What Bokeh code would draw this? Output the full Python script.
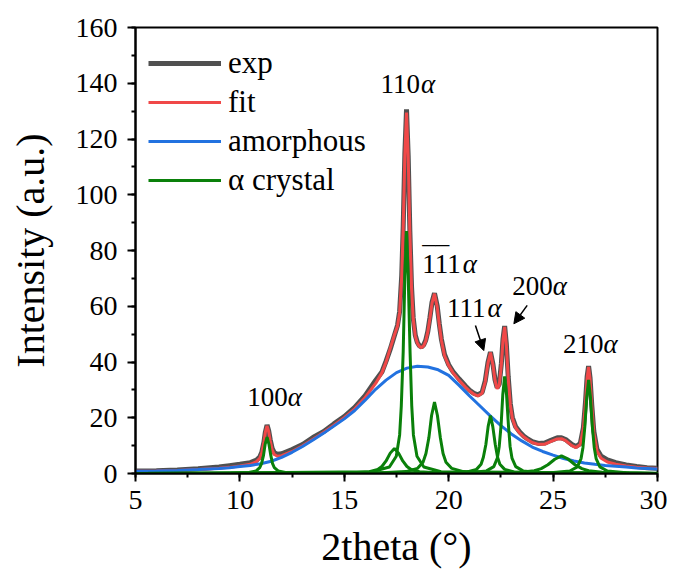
from bokeh.plotting import figure
from bokeh.models import (Legend, LegendItem, Label, Arrow, NormalHead,
                          SingleIntervalTicker, Range1d)
from bokeh.embed import file_html
from bokeh.resources import INLINE

# ---------------- data ----------------
two_theta = [5, 6, 7, 8, 9, 9.5, 10, 10.5, 10.8, 10.95, 11.05, 11.15, 11.22, 11.3, 11.38,
             11.45, 11.55, 11.65, 11.8, 12.0, 12.5, 13, 13.5, 14, 14.5, 15, 15.5, 16, 16.5,
             16.8, 17.0, 17.2, 17.4, 17.55, 17.65, 17.75, 17.82, 17.9, 17.98, 18.06, 18.14,
             18.22, 18.3, 18.4, 18.5, 18.6, 18.7, 18.8, 18.9, 19.0, 19.1, 19.2, 19.32, 19.45,
             19.55, 19.65, 19.8, 20.0, 20.2, 20.5, 20.8, 21.0, 21.2, 21.4, 21.6, 21.75, 21.88,
             22.0, 22.12, 22.22, 22.32, 22.42, 22.52, 22.6, 22.68, 22.76, 22.85, 22.95, 23.05,
             23.2, 23.4, 23.6, 23.8, 24.0, 24.3, 24.6, 24.9, 25.2, 25.4, 25.6, 25.9, 26.1, 26.3,
             26.45, 26.55, 26.63, 26.7, 26.77, 26.85, 26.95, 27.1, 27.3, 27.6, 28.0, 28.5, 29.0,
             29.5, 30.0]
exp_int = [0.9, 1.0, 1.3, 1.7, 2.3, 2.8, 3.3, 3.9, 4.8, 5.9, 7.6, 11.2, 14.9, 17.4, 15.3,
           12.2, 8.9, 7.4, 6.9, 7.1, 8.6, 10.4, 12.9, 15.0, 17.8, 20.4, 23.7, 27.9, 33.4,
           36.4, 40.3, 44.6, 49.5, 53.2, 58.2, 71.0, 88.3, 114.8, 130.6, 114.0, 86.9,
           67.0, 55.9, 49.6, 47.0, 45.8, 45.4, 46.1, 47.8, 51.0, 55.9, 61.4, 64.7, 60.1,
           53.7, 48.2, 42.7, 39.0, 36.6, 33.9, 31.4, 29.9, 28.8, 28.2, 29.1, 33.2, 39.8,
           43.6, 39.2, 33.6, 30.8, 32.0, 39.3, 48.2, 52.9, 46.5, 34.7, 25.1, 20.1,
           16.9, 14.9, 13.4, 12.3, 11.4, 10.8, 10.9, 11.9, 12.8, 12.8, 12.2, 10.4, 9.7, 10.7,
           16.4, 25.5, 34.8, 38.5, 34.3, 24.8, 15.2, 8.7, 6.2, 4.9, 3.9, 3.1, 2.5,
           2.1, 1.9]
fit_int = [0.8, 0.9, 1.1, 1.45, 1.85, 2.2, 2.66, 3.3, 4.3, 5.5, 7.45, 11.3, 14.8, 17.1, 15.0,
           11.85, 8.35, 6.8, 6.2, 6.4, 7.9, 9.95, 12.26, 14.7, 17.3, 20.0, 23.2, 27.3, 32.3,
           36.1, 39.95, 44.9, 49.7, 52.95, 57.8, 70.6, 87.8, 114.1, 129.5, 113.5, 86.4,
           66.6, 55.5, 49.3, 46.7, 45.5, 45.2, 45.8, 47.5, 50.8, 55.6, 61.1, 64.5, 59.7,
           53.4, 47.8, 42.25, 38.7, 36.2, 33.4, 31.0, 29.6, 28.5, 27.8, 28.8, 32.9, 39.5,
           43.4, 38.9, 33.3, 30.4, 31.7, 39.0, 47.9, 52.6, 46.2, 34.3, 24.7, 19.7,
           16.5, 14.5, 13.1, 12.0, 11.1, 10.45, 10.5, 11.5, 12.4, 12.5, 11.8, 10.0, 9.3, 10.4,
           16.1, 25.1, 34.3, 38.2, 33.9, 24.35, 14.75, 8.1, 5.45, 4.1, 3.3, 2.72, 2.28,
           2.0, 1.77]

amorphous_x = [5, 5.5, 6, 6.5, 7, 7.5, 8, 8.5, 9, 9.5, 10, 10.5, 11, 11.5, 12, 12.5, 13, 13.5,
               14, 14.5, 15, 15.5, 16, 16.5, 17, 17.5, 18, 18.5, 19, 19.5, 20, 20.5, 21, 21.5,
               22, 22.5, 23, 23.5, 24, 24.5, 25, 25.5, 26, 26.5, 27, 27.5, 28, 28.5, 29, 29.5, 30]
amorphous_y = [0.8, 0.85, 0.9, 1.0, 1.1, 1.25, 1.4, 1.6, 1.8, 2.1, 2.5, 2.9, 3.5, 4.4, 5.8, 7.6,
               9.7, 12.0, 14.4, 17.0, 19.6, 22.6, 26.3, 30.2, 33.5, 36.2, 37.8, 38.5, 38.2, 37.2,
               35.2, 31.6, 27.8, 24.2, 20.6, 17.2, 14.2, 11.7, 9.5, 7.9, 6.6, 5.4, 4.5, 3.8, 3.3,
               2.9, 2.6, 2.3, 2.0, 1.8, 1.6]

# alpha-crystal component peaks
peak_100_x = [5, 9.55, 10.43, 10.78, 10.95, 11.04, 11.13, 11.21, 11.3, 11.39, 11.48, 11.56, 11.65, 11.83, 12.18, 13.05, 30]
peak_100_y = [0, 0.09, 0.35, 0.92, 2.07, 3.63, 6.5, 10.56, 13.0, 10.56, 6.5, 3.63, 2.07, 0.92, 0.35, 0.09, 0]
peak_s_x = [5, 13.4, 15.4, 16.2, 16.6, 16.8, 17.0, 17.2, 17.4, 17.6, 17.8, 18.0, 18.2, 18.6, 19.4, 21.4, 30]
peak_s_y = [0, 0.06, 0.24, 0.64, 1.43, 2.51, 4.5, 7.31, 9.0, 7.31, 4.5, 2.51, 1.43, 0.64, 0.24, 0.06, 0]
peak_110_x = [5, 16.33, 17.16, 17.49, 17.65, 17.73, 17.82, 17.90, 17.98, 18.06, 18.15, 18.23, 18.31, 18.48, 18.81, 19.63, 30]
peak_110_y = [0, 0.61, 2.35, 6.18, 13.83, 24.27, 43.5, 70.64, 87.0, 70.64, 43.5, 24.27, 13.83, 6.18, 2.35, 0.61, 0]
peak_m111_x = [5, 16.57, 17.95, 18.5, 18.77, 18.91, 19.05, 19.18, 19.32, 19.46, 19.6, 19.73, 19.87, 20.15, 20.7, 22.07, 30]
peak_m111_y = [0, 0.18, 0.69, 1.82, 4.07, 7.14, 12.8, 20.79, 25.6, 20.79, 12.8, 7.14, 4.07, 1.82, 0.69, 0.18, 0]
peak_111_x = [5, 19.75, 20.88, 21.33, 21.55, 21.66, 21.78, 21.89, 22.0, 22.11, 22.23, 22.34, 22.45, 22.68, 23.13, 24.25, 30]
peak_111_y = [0, 0.15, 0.56, 1.48, 3.31, 5.8, 10.4, 16.89, 20.8, 16.89, 10.4, 5.8, 3.31, 1.48, 0.56, 0.15, 0]
peak_200_x = [5, 20.93, 21.81, 22.16, 22.33, 22.42, 22.51, 22.59, 22.68, 22.77, 22.86, 22.94, 23.03, 23.21, 23.56, 24.43, 30]
peak_200_y = [0, 0.24, 0.94, 2.47, 5.53, 9.71, 17.4, 28.26, 34.8, 28.26, 17.4, 9.71, 5.53, 2.47, 0.94, 0.24, 0]
peak_b_x = [5, 18.9, 22.15, 23.45, 24.1, 24.43, 24.75, 25.08, 25.4, 25.73, 26.05, 26.38, 26.7, 27.35, 28.65, 30]
peak_b_y = [0, 0.04, 0.17, 0.45, 1.0, 1.76, 3.15, 5.12, 6.3, 5.12, 3.15, 1.76, 1.0, 0.45, 0.17, 0.09]
peak_210_x = [5, 24.9, 25.8, 26.16, 26.34, 26.43, 26.52, 26.61, 26.7, 26.79, 26.88, 26.97, 27.06, 27.24, 27.6, 28.5, 30]
peak_210_y = [0, 0.24, 0.91, 2.39, 5.34, 9.37, 16.8, 27.28, 33.6, 27.28, 16.8, 9.37, 5.34, 2.39, 0.91, 0.24, 0]

crystal_peaks = [(peak_100_x, peak_100_y), (peak_s_x, peak_s_y), (peak_110_x, peak_110_y),
                 (peak_m111_x, peak_m111_y), (peak_111_x, peak_111_y), (peak_200_x, peak_200_y),
                 (peak_b_x, peak_b_y), (peak_210_x, peak_210_y)]

legend_labels = ["exp", "fit", "amorphous", "α crystal"]

# peak annotations: text of the Miller indices
peak_label_text = ["100", "110", "111", "111", "200", "210"]

# ---------------- figure ----------------
FONT = "Liberation Serif, Times New Roman, serif"
C_EXP, C_FIT, C_AM, C_CR = "#505050", "#F04848", "#2272E0", "#0A800A"

p = figure(width=667, height=573, x_range=Range1d(5, 30), y_range=Range1d(0, 160),
           output_backend="svg", toolbar_location=None,
           min_border_left=135, min_border_right=10, min_border_top=27, min_border_bottom=100)
p.xgrid.visible = False
p.ygrid.visible = False
p.outline_line_color = "black"
p.outline_line_width = 2
p.background_fill_color = "white"
p.border_fill_color = "white"

p.xaxis.ticker = SingleIntervalTicker(interval=5, num_minor_ticks=2)
p.yaxis.ticker = SingleIntervalTicker(interval=20, num_minor_ticks=2)
for ax in (p.xaxis, p.yaxis):
    ax.axis_line_width = 2
    ax.major_tick_line_width = 2
    ax.minor_tick_line_width = 2
    ax.major_tick_in = 0
    ax.major_tick_out = 8
    ax.minor_tick_in = 0
    ax.minor_tick_out = 4
    ax.major_label_text_font = FONT
    ax.major_label_text_font_size = "28px"
    ax.major_label_text_color = "black"
    ax.axis_label_text_font = FONT
    ax.axis_label_text_font_size = "40px"
    ax.axis_label_text_font_style = "normal"
    ax.axis_label_text_color = "black"
p.xaxis.axis_label = "2theta (°)"
p.yaxis.axis_label = "Intensity (a.u.)"
p.xaxis.major_label_standoff = 9
p.xaxis.axis_label_standoff = 12
p.yaxis.major_label_standoff = 10
p.yaxis.axis_label_standoff = 20

r_exp = p.line(two_theta, exp_int, line_color=C_EXP, line_width=5)
r_fit = p.line(two_theta, fit_int, line_color=C_FIT, line_width=3)
r_am = p.line(amorphous_x, amorphous_y, line_color=C_AM, line_width=3)
r_cr = []
for xs, ys in crystal_peaks:
    r_cr.append(p.line(xs, ys, line_color=C_CR, line_width=3))

legend = Legend(items=[LegendItem(label=legend_labels[0], renderers=[r_exp]),
                       LegendItem(label=legend_labels[1], renderers=[r_fit]),
                       LegendItem(label=legend_labels[2], renderers=[r_am]),
                       LegendItem(label=legend_labels[3], renderers=[r_cr[0]])],
                location=(9, 271), border_line_alpha=0, background_fill_alpha=0,
                label_text_font=FONT, label_text_font_size="31px", label_text_color="black",
                glyph_width=73, glyph_height=36, label_height=36, spacing=3,
                padding=4, margin=0, label_standoff=7)
p.add_layout(legend)

# annotation placement (left edge x, centre y in data units)
label_pos = [(10.35, 27.6), (16.73, 139.7), (18.73, 75.0), (19.92, 59.4), (23.04, 67.1), (25.48, 46.3)]
for txt, (lx, ly) in zip(peak_label_text, label_pos):
    p.add_layout(Label(x=lx, y=ly, text=txt, text_font=FONT, text_font_size="27px",
                       text_align="left", text_baseline="middle", text_color="black"))
    p.add_layout(Label(x=lx, y=ly, x_offset=40.5, text="α", text_font=FONT,
                       text_font_size="27px", text_font_style="italic",
                       text_align="left", text_baseline="middle", text_color="black"))
# overline over the first two digits of the (-1 -1 1) index
p.add_layout(Label(x=label_pos[2][0], y=label_pos[2][1], y_offset=30, text="__",
                   text_font=FONT, text_font_size="27px", text_align="left",
                   text_baseline="middle", text_color="black"))

arrows = [((21.28, 53.1), (21.68, 44.1)), ((23.76, 60.3), (23.12, 53.7))]
for (x0, y0), (x1, y1) in arrows:
    p.add_layout(Arrow(x_start=x0, y_start=y0, x_end=x1, y_end=y1, line_width=1.5,
                       line_color="black",
                       end=NormalHead(size=11, fill_color="black", line_color="black")))

open("out.html", "w").write(file_html(p, INLINE))
